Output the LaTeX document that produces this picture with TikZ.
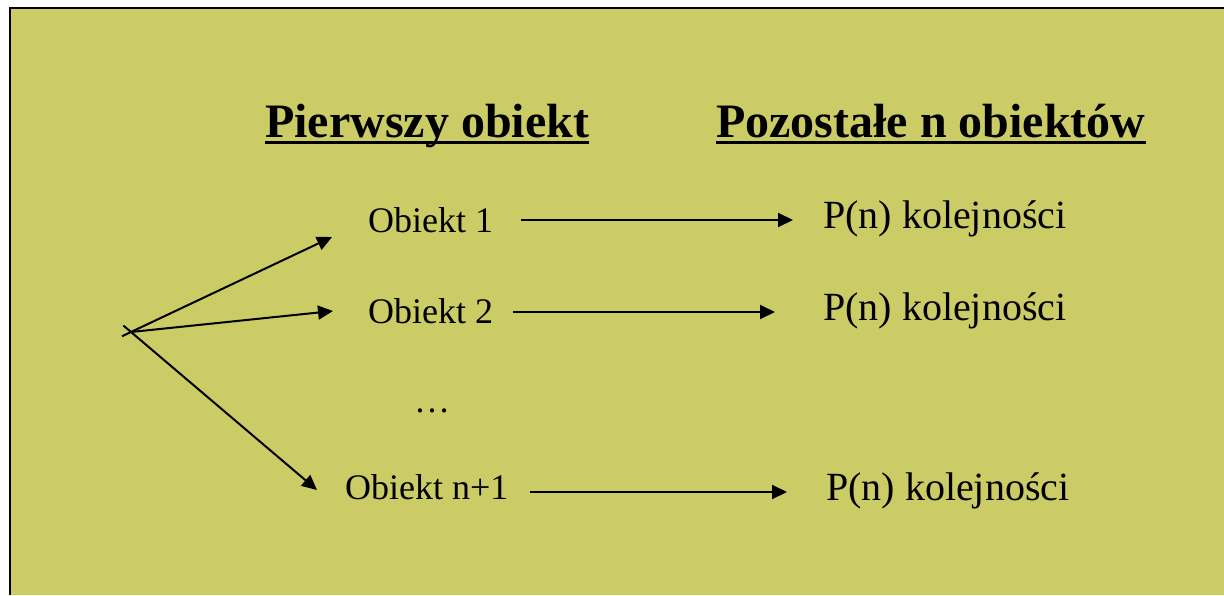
\documentclass[tikz,border=0pt]{standalone}
\usepackage{fontspec}
\setmainfont{Liberation Serif}
\usetikzlibrary{arrows.meta,calc}
\definecolor{panel}{RGB}{204,204,102}
\begin{document}
\begin{tikzpicture}[x=1pt,y=-1pt,
  heading/.style={anchor=base west, inner sep=0pt, font=\fontsize{48}{56}\selectfont\bfseries},
  item/.style={anchor=base west, inner sep=0pt, font=\fontsize{36}{42}\selectfont},
  result/.style={anchor=base west, inner sep=0pt, font=\fontsize{40}{48}\selectfont},
  arr/.style={line width=2pt, -{Triangle[length=15pt,width=14pt]}},
  uline/.style={line width=3pt}]
\useasboundingbox (0,0) rectangle (1224,595);
% panel with its frame (top and left edges visible)
\fill[panel] (10,8) rectangle (1224,595);
\draw[line width=2.5pt] (10,595) -- (10,8) -- (1224,8);

% column headings
\node[heading] (h1) at (265,137) {Pierwszy obiekt};
\node[heading] (h2) at (716,137) {Pozostałe n obiektów};
\draw[uline] ([yshift=-5pt]h1.base west) -- ([yshift=-5pt]h1.base east);
\draw[uline] ([yshift=-5pt]h2.base west) -- ([yshift=-5pt]h2.base east);

% first objects
\node[item] (o1) at (368,232) {Obiekt 1};
\node[item] (o2) at (368,323) {Obiekt 2};
\node[item] (dots) at (414,412) {…};
\node[item] (on) at (345,499) {Obiekt n+1};

% remaining orderings
\node[result] (p1) at (823,228) {P(n) kolejności};
\node[result] (p2) at (823,320) {P(n) kolejności};
\node[result] (p3) at (826,500) {P(n) kolejności};

% branching from the start point
\coordinate (fan) at (131,332);
\coordinate (t1) at ($(o1.base west)+(-36,5)$);
\coordinate (t2) at ($(o2.base west)+(-35,-12)$);
\coordinate (t3) at ($(on.base west)+(-28,-9)$);
\draw[arr] ($(fan)!-10pt!(t1)$) -- (t1);
\draw[arr] (fan) -- (t2);
\draw[arr] ($(fan)!-10pt!(t3)$) -- (t3);

% object -> orderings of the rest
\draw[arr] ($(o1.base west)+(153,-12)$) -- ($(o1.base west -| p1.base west)+(-30,-12)$);
\draw[arr] ($(o2.base west)+(145,-11)$) -- ($(o2.base west -| p2.base west)+(-48,-11)$);
\draw[arr] ($(on.base west)+(185,-7)$) -- ($(on.base west -| p3.base west)+(-39,-7)$);
\end{tikzpicture}
\end{document}
